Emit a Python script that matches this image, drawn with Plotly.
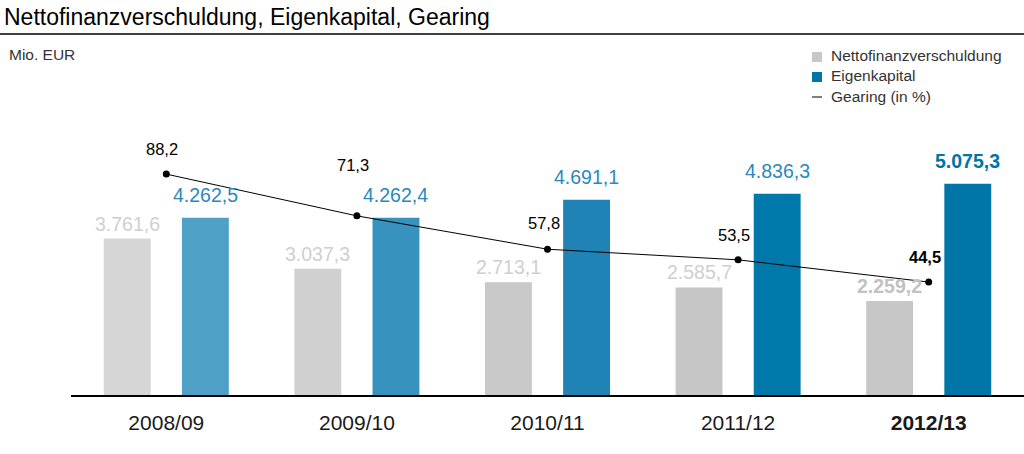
import plotly.graph_objects as go

categories = ["2008/09", "2009/10", "2010/11", "2011/12", "2012/13"]
nettofinanz = [3761.6, 3037.3, 2713.1, 2585.7, 2259.2]
eigenkapital = [4262.5, 4262.4, 4691.1, 4836.3, 5075.3]
gearing = [88.2, 71.3, 57.8, 53.5, 44.5]
tick_labels = ["2008/09", "2009/10", "2010/11", "2011/12", "<b>2012/13</b>"]

gray_colors = ["#d6d6d6", "#d0d0d0", "#c9c9c9", "#c5c6c5", "#c6c7c6"]
blue_colors = ["#4fa0c6", "#3792bd", "#1f84b5", "#0078aa", "#0075a8"]
FONT = "Liberation Sans, Arial, Helvetica, sans-serif"

def fmt(v):
    s = f"{v:,.1f}"
    return s.replace(",", "X").replace(".", ",").replace("X", ".")

fig = go.Figure()
fig.add_trace(go.Bar(x=categories, y=nettofinanz, marker=dict(color=gray_colors, line=dict(width=0)),
                     width=0.246, offset=-0.328, name="Nettofinanzverschuldung", hoverinfo="y"))
fig.add_trace(go.Bar(x=categories, y=eigenkapital, marker=dict(color=blue_colors, line=dict(width=0)),
                     width=0.246, offset=0.082, name="Eigenkapital", hoverinfo="y"))
fig.add_trace(go.Scatter(x=categories, y=gearing, yaxis="y2", mode="lines+markers",
                         line=dict(color="#000000", width=1), marker=dict(color="#000000", size=7),
                         name="Gearing (in %)"))

ann = []
n = len(categories)
for i, (c, v) in enumerate(zip(categories, nettofinanz)):
    last = i == n - 1
    ann.append(dict(x=c, y=v, xref="x", yref="y", text=("<b>%s</b>" if last else "%s") % fmt(v),
                    showarrow=False, xshift=-39, yshift=15, yanchor="middle",
                    font=dict(family=FONT, size=19.5, color="#c2c2c2" if last else "#cfcfcf")))
for i, (c, v) in enumerate(zip(categories, eigenkapital)):
    last = i == n - 1
    ann.append(dict(x=c, y=v, xref="x", yref="y", text=("<b>%s</b>" if last else "%s") % fmt(v),
                    showarrow=False, xshift=39, yshift=23, yanchor="middle",
                    font=dict(family=FONT, size=19.5, color="#0075a8" if last else "#2a88bd")))
g_shift = [25, 51, 26, 25, 25]
for i, (c, v) in enumerate(zip(categories, gearing)):
    last = i == n - 1
    ann.append(dict(x=c, y=v, xref="x", yref="y2", text=("<b>%s</b>" if last else "%s") % fmt(v),
                    showarrow=False, xshift=-4, yshift=g_shift[i], yanchor="middle",
                    font=dict(family=FONT, size=16.5, color="#000000")))

# Title, unit and legend texts (plot area: x 71..1024 px, y 100..395 px)
def px(xp):
    return (xp - 71) / 953.0
def py(yp):
    return (395 - yp) / 295.0

ann.append(dict(x=px(2), y=py(17), xref="paper", yref="paper", xanchor="left", yanchor="middle",
                text="Nettofinanzverschuldung, Eigenkapital, Gearing", showarrow=False,
                font=dict(family=FONT, size=23, color="#000000")))
ann.append(dict(x=px(7), y=py(55), xref="paper", yref="paper", xanchor="left", yanchor="middle",
                text="Mio. EUR", showarrow=False, font=dict(family=FONT, size=15.5, color="#333333")))
legend_items = ["Nettofinanzverschuldung", "Eigenkapital", "Gearing (in %)"]
legend_y = [56, 76, 97]
for t, yy in zip(legend_items, legend_y):
    ann.append(dict(x=px(829), y=py(yy), xref="paper", yref="paper", xanchor="left", yanchor="middle",
                    text=t, showarrow=False, font=dict(family=FONT, size=15.5, color="#333333")))

shapes = [
    dict(type="line", xref="paper", yref="paper", x0=px(0), x1=px(1024), y0=py(34), y1=py(34),
         line=dict(color="#000000", width=1.5)),
    dict(type="rect", xref="paper", yref="paper", x0=px(812), x1=px(822), y0=py(62), y1=py(52),
         fillcolor="#c6c7c6", line=dict(width=0)),
    dict(type="rect", xref="paper", yref="paper", x0=px(812), x1=px(822), y0=py(82), y1=py(72),
         fillcolor="#0075a8", line=dict(width=0)),
    dict(type="line", xref="paper", yref="paper", x0=px(812), x1=px(822), y0=py(97), y1=py(97),
         line=dict(color="#000000", width=1)),
]

fig.update_layout(
    width=1024, height=454,
    margin=dict(l=71, r=0, t=100, b=59),
    paper_bgcolor="white", plot_bgcolor="white",
    showlegend=False,
    barmode="group",
    xaxis=dict(type="category", range=[-0.5, 4.5], showline=True, linecolor="#000000", linewidth=1.5,
               showgrid=False, zeroline=False, ticks="", tickvals=categories, ticktext=tick_labels,
               tickfont=dict(family=FONT, size=21, color="#1a1a1a"), ticklabelstandoff=8),
    yaxis=dict(range=[0, 7091], visible=False, showgrid=False, zeroline=False),
    yaxis2=dict(range=[-1.21, 118.2], overlaying="y", visible=False, showgrid=False, zeroline=False),
    annotations=ann, shapes=shapes,
)

fig.write_html("out.html", config={"displayModeBar": False},
               post_script="document.body.style.margin='0';document.body.style.overflow='hidden';")
